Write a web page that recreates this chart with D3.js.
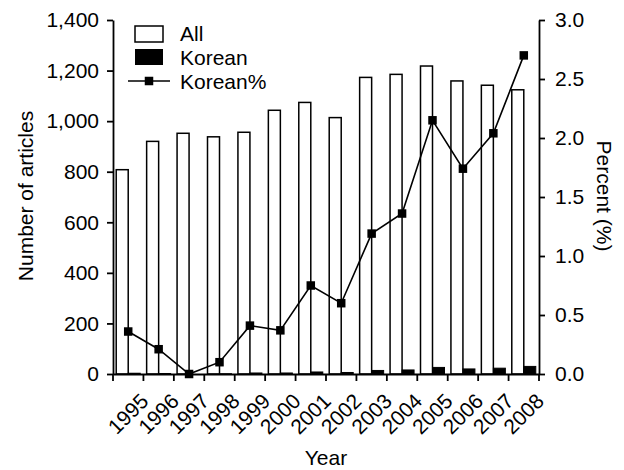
<!DOCTYPE html>
<html><head><meta charset="utf-8">
<script src="https://cdn.jsdelivr.net/npm/d3@7"></script>
<style>
body{margin:0;background:#fff;}
svg{display:block;font-family:"Liberation Sans",Arial,sans-serif;}
</style></head><body>
<svg id="c" width="624" height="470"></svg>
<script>
const years = ["1995","1996","1997","1998","1999","2000","2001","2002","2003","2004","2005","2006","2007","2008"];
const allArticles = [808,920,952,938,956,1043,1074,1014,1173,1185,1218,1159,1142,1124];
const koreanArticles = [3,2,0,1,4,4,8,6,14,16,26,20,23,30];
const koreanPct = [0.36,0.21,0.0,0.10,0.41,0.37,0.75,0.60,1.19,1.36,2.15,1.74,2.04,2.70];
const leftTicks = [0,200,400,600,800,1000,1200,1400];
const rightTicks = [0,0.5,1.0,1.5,2.0,2.5,3.0];

const svg = d3.select("#c");
const L = 113, R = 539, T = 20, B = 374;
const fs = 21;

const x = d3.scaleBand().domain(years).range([L, R]).padding(0);
const yL = d3.scaleLinear().domain([0,1400]).range([B, T]);
const yR = d3.scaleLinear().domain([0,3]).range([B, T]);
const bw = 12;

// bars
const g = svg.append("g");
g.selectAll("rect.all").data(years).join("rect")
  .attr("x", (d) => x(d) + x.bandwidth()/2 - bw)
  .attr("y", (d,i) => yL(allArticles[i]))
  .attr("width", bw)
  .attr("height", (d,i) => B - yL(allArticles[i]))
  .attr("fill", "#fff").attr("stroke", "#000").attr("stroke-width", 1.5);
g.selectAll("rect.kor").data(years).join("rect")
  .attr("x", (d) => x(d) + x.bandwidth()/2)
  .attr("y", (d,i) => yL(koreanArticles[i]))
  .attr("width", bw)
  .attr("height", (d,i) => B - yL(koreanArticles[i]))
  .attr("fill", "#000").attr("stroke", "#000").attr("stroke-width", 1);

// line
const cx = (i) => x(years[i]) + x.bandwidth()/2;
const line = d3.line().x((d,i) => cx(i)).y(d => yR(d));
svg.append("path").datum(koreanPct).attr("d", line)
  .attr("fill","none").attr("stroke","#000").attr("stroke-width",1.6);
const ms = 8.5;
svg.selectAll("rect.pt").data(koreanPct).join("rect")
  .attr("x", (d,i) => cx(i) - ms/2).attr("y", d => yR(d) - ms/2)
  .attr("width", ms).attr("height", ms).attr("fill","#000");

// axes
function styleAxis(sel){
  sel.selectAll("path.domain").attr("stroke","#000").attr("stroke-width",1.8);
  sel.selectAll(".tick line").attr("stroke","#000").attr("stroke-width",1.8);
  sel.selectAll(".tick text").attr("font-size", fs).attr("fill","#000")
    .attr("font-family","'Liberation Sans',Arial,sans-serif");
}
const axL = svg.append("g").attr("transform",`translate(${L},0)`)
  .call(d3.axisLeft(yL).tickValues(leftTicks).tickFormat(d3.format(",")).tickSize(6).tickSizeOuter(0).tickPadding(8));
styleAxis(axL);
const axR = svg.append("g").attr("transform",`translate(${R},0)`)
  .call(d3.axisRight(yR).tickValues(rightTicks).tickFormat(d3.format(".1f")).tickSize(6).tickSizeOuter(0).tickPadding(10));
styleAxis(axR);

const axB = svg.append("g").attr("transform",`translate(0,${B})`)
  .call(d3.axisBottom(x).tickSize(0).tickFormat(""));
axB.select("path.domain").attr("stroke","#000").attr("stroke-width",1.8);
axB.selectAll(".tick").remove();
// boundary ticks
const bounds = years.map(d => x(d)).concat([R]);
svg.selectAll("line.bt").data(bounds).join("line")
  .attr("x1", d=>d).attr("x2", d=>d).attr("y1", B).attr("y2", B+7)
  .attr("stroke","#000").attr("stroke-width",1.8);
svg.selectAll("text.xl").data(years).join("text")
  .attr("transform", (d) => `translate(${x(d)+x.bandwidth()/2+11},${B+18}) rotate(-45)`)
  .attr("text-anchor","end").attr("dy","0.71em")
  .attr("font-size", fs).text(d => d);

// titles
svg.append("text").attr("transform","translate(33,196) rotate(-90)")
  .attr("text-anchor","middle").attr("font-size", fs).text("Number of articles");
svg.append("text").attr("transform","translate(597,196) rotate(90)")
  .attr("text-anchor","middle").attr("font-size", fs).text("Percent (%)");
svg.append("text").attr("x", 326).attr("y", 465)
  .attr("text-anchor","middle").attr("font-size", fs).text("Year");

// legend
const lg = svg.append("g");
lg.append("rect").attr("x",135).attr("y",26).attr("width",28).attr("height",16)
  .attr("fill","#fff").attr("stroke","#000").attr("stroke-width",1.5);
lg.append("text").attr("x",180).attr("y",41).attr("font-size",fs).text("All");
lg.append("rect").attr("x",135).attr("y",49).attr("width",28).attr("height",16)
  .attr("fill","#000");
lg.append("text").attr("x",180).attr("y",65).attr("font-size",fs).text("Korean");
lg.append("line").attr("x1",128).attr("x2",170).attr("y1",81).attr("y2",81)
  .attr("stroke","#000").attr("stroke-width",1.6);
lg.append("rect").attr("x",149-ms/2).attr("y",81-ms/2).attr("width",ms).attr("height",ms).attr("fill","#000");
lg.append("text").attr("x",180).attr("y",89).attr("font-size",fs).text("Korean%");
</script>
</body></html>
